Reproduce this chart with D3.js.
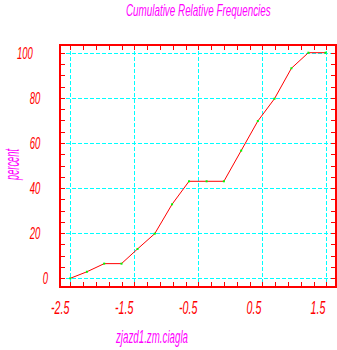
<!DOCTYPE html>
<html>
<head>
<meta charset="utf-8">
<script src="https://cdn.jsdelivr.net/npm/d3@7"></script>
<style>
  html, body { margin: 0; padding: 0; background: #fff; }
  svg { display: block; }
  text { font-family: "Liberation Sans", Arial, sans-serif; font-style: italic; }
</style>
</head>
<body>
<script>
// --- data ---
const xValues = [-2.5, -2.24, -1.97, -1.70, -1.45, -1.18, -0.91, -0.645, -0.37, -0.10, 0.17, 0.43, 0.69, 0.955, 1.22, 1.49];
const percentValues = [0, 2.9, 6.5, 6.5, 13, 19.8, 32.8, 43, 43, 43, 56.6, 69.7, 79.6, 93.1, 100, 100];
const xTickLabels = [-2.5, -1.5, -0.5, 0.5, 1.5];
const yTickLabels = [0, 20, 40, 60, 80, 100];
const titleText = "Cumulative Relative Frequencies";
const xTitle = "zjazd1.zm.ciagla";
const yTitle = "percent";

const W = 337, H = 350;
const frame = {left: 60, top: 45, right: 336, bottom: 287};

const svg = d3.select("body").append("svg")
  .attr("width", W).attr("height", H);

// scales: gridlines sit at -2.5 .. 1.5 and 0 .. 100
const x = d3.scaleLinear().domain([-2.5, 1.5]).range([70.3, 326.3]);
const y = d3.scaleLinear().domain([0, 100]).range([278.3, 52.7]);

// --- grid ---
const grid = svg.append("g")
  .attr("stroke", "#00ffff").attr("stroke-width", 1)
  .attr("stroke-dasharray", "4,2").attr("shape-rendering", "crispEdges");
grid.selectAll(".gx").data(xTickLabels).enter().append("line")
  .attr("x1", d => Math.round(x(d)) + 0.5).attr("x2", d => Math.round(x(d)) + 0.5)
  .attr("y1", frame.top).attr("y2", frame.bottom);
grid.selectAll(".gy").data(yTickLabels).enter().append("line")
  .attr("y1", d => Math.round(y(d)) + 0.5).attr("y2", d => Math.round(y(d)) + 0.5)
  .attr("x1", frame.left).attr("x2", frame.right);

// --- minor ticks (inward on all four sides) ---
const xTicks = d3.range(-2.5, 1.6, 0.2);
const yTicks = d3.range(0, 101, 5);
const ticks = svg.append("g")
  .attr("stroke", "#ff0000").attr("stroke-width", 1).attr("shape-rendering", "crispEdges");
xTicks.forEach(t => {
  const px = Math.round(x(t)) + 0.5;
  ticks.append("line").attr("x1", px).attr("x2", px).attr("y1", frame.top).attr("y2", frame.top + 5);
  ticks.append("line").attr("x1", px).attr("x2", px).attr("y1", frame.bottom).attr("y2", frame.bottom - 5);
});
yTicks.forEach(t => {
  const py = Math.round(y(t)) + 0.5;
  ticks.append("line").attr("y1", py).attr("y2", py).attr("x1", frame.left).attr("x2", frame.left + 5);
  ticks.append("line").attr("y1", py).attr("y2", py).attr("x1", frame.right).attr("x2", frame.right - 5);
});

// --- frame ---
svg.append("rect")
  .attr("x", frame.left).attr("y", frame.top)
  .attr("width", frame.right - frame.left).attr("height", frame.bottom - frame.top)
  .attr("fill", "none").attr("stroke", "#ff0000").attr("stroke-width", 2)
  .attr("shape-rendering", "crispEdges");

// --- cumulative line + points ---
const pts = xValues.map((v, i) => [v, percentValues[i]]);
svg.append("path")
  .datum(pts)
  .attr("fill", "none").attr("stroke", "#ff0000").attr("stroke-width", 1)
  .attr("d", d3.line().x(d => x(d[0])).y(d => y(d[1])));
svg.selectAll(".pt").data(pts).enter().append("rect")
  .attr("x", d => x(d[0]) - 1).attr("y", d => y(d[1]) - 1)
  .attr("width", 2).attr("height", 2).attr("fill", "#00ff00");

// --- tick labels (tall, narrow italic) ---
const sx = 0.56;
xTickLabels.forEach(t => {
  svg.append("g")
    .attr("transform", `translate(${x(t) - 1},314) scale(${sx},1)`)
    .append("text")
      .attr("text-anchor", "end").attr("font-size", 19).attr("fill", "#ff0000")
      .text(String(t));
});
yTickLabels.forEach(t => {
  const s = String(t);
  svg.append("g")
    .attr("transform", `translate(${48 - 7.6 * (s.length - 1)},${y(t) + 6}) scale(${sx},1)`)
    .append("text")
      .attr("text-anchor", "end").attr("font-size", 17).attr("fill", "#ff0000")
      .text(s);
});

// --- titles: squeezed horizontally to the width seen in the picture ---
function narrowText(str, cx, cy, size, width, rotate) {
  const g = svg.append("g");
  const t = g.append("text")
    .attr("text-anchor", "middle").attr("font-size", size).attr("fill", "#ff00ff")
    .text(str);
  const k = width / t.node().getComputedTextLength();
  g.attr("transform", `translate(${cx},${cy}) rotate(${rotate}) scale(${k},1)`);
}
narrowText(titleText, 198.3, 15.5, 16.5, 145, 0);
narrowText(xTitle, 152, 343, 18, 72, 0);
narrowText(yTitle, 19, 164.5, 21, 31, -90);
</script>
</body>
</html>
